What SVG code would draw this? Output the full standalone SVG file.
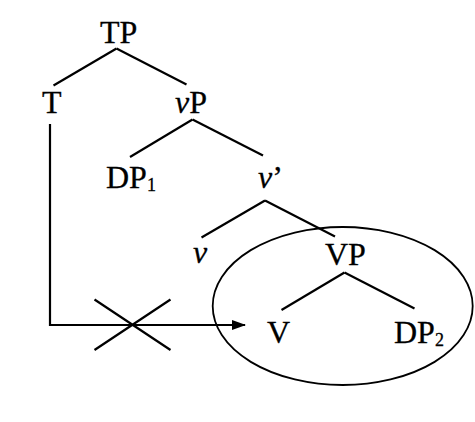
<svg xmlns="http://www.w3.org/2000/svg" width="475" height="422" viewBox="0 0 475 422">
<style>
text{font-family:"Liberation Serif","Times New Roman",serif;font-size:32px;fill:#000;stroke:#000;stroke-width:0.3}
.i{font-style:italic}
.sub{font-size:18px}
.e{stroke:#000;stroke-width:2.2;fill:none}
</style>
<defs>
<marker id="ah" markerWidth="14" markerHeight="10" refX="13" refY="5" orient="auto" markerUnits="userSpaceOnUse">
<path d="M0,0 L14,5 L0,10 Z" fill="#000"/>
</marker>
</defs>
<rect width="475" height="422" fill="#fff"/>
<g id="connectors">
<path class="e" d="M116.5,48.5 L53.5,85.5"/>
<path class="e" d="M116.5,48.5 L186.5,84.5"/>
<path class="e" d="M192.5,119.5 L130,157"/>
<path class="e" d="M192.5,119.5 L263,155.5"/>
<path class="e" d="M265,200.5 L201.5,237.5"/>
<path class="e" d="M265,200.5 L335,236.5"/>
<path class="e" d="M344.5,272.5 L281.5,310"/>
<path class="e" d="M344.5,272.5 L414.5,308.5"/>
<path class="e" d="M50,124 L50,325 L245,325" marker-end="url(#ah)"/>
<path class="e" d="M94.5,299.5 L170.5,350 M94.5,350 L170.5,299.5"/>
</g>
<g id="ellipse"><ellipse cx="342.7" cy="306" rx="130" ry="79" fill="none" stroke="#000" stroke-width="1.8"/></g>
<g id="TP"><text x="100" y="43">TP</text></g>
<g id="T"><text x="42" y="113">T</text></g>
<g id="vP"><text x="175" y="113"><tspan class="i">v</tspan>P</text></g>
<g id="DP1"><text x="106" y="188">DP<tspan class="sub" dy="3">1</tspan></text></g>
<g id="vbar"><text x="258" y="188"><tspan class="i">v</tspan>’</text></g>
<g id="v"><text class="i" x="193" y="263">v</text></g>
<g id="VP"><text x="325" y="265">VP</text></g>
<g id="V"><text x="267" y="343">V</text></g>
<g id="DP2"><text x="394" y="343">DP<tspan class="sub" dy="3">2</tspan></text></g>
</svg>
